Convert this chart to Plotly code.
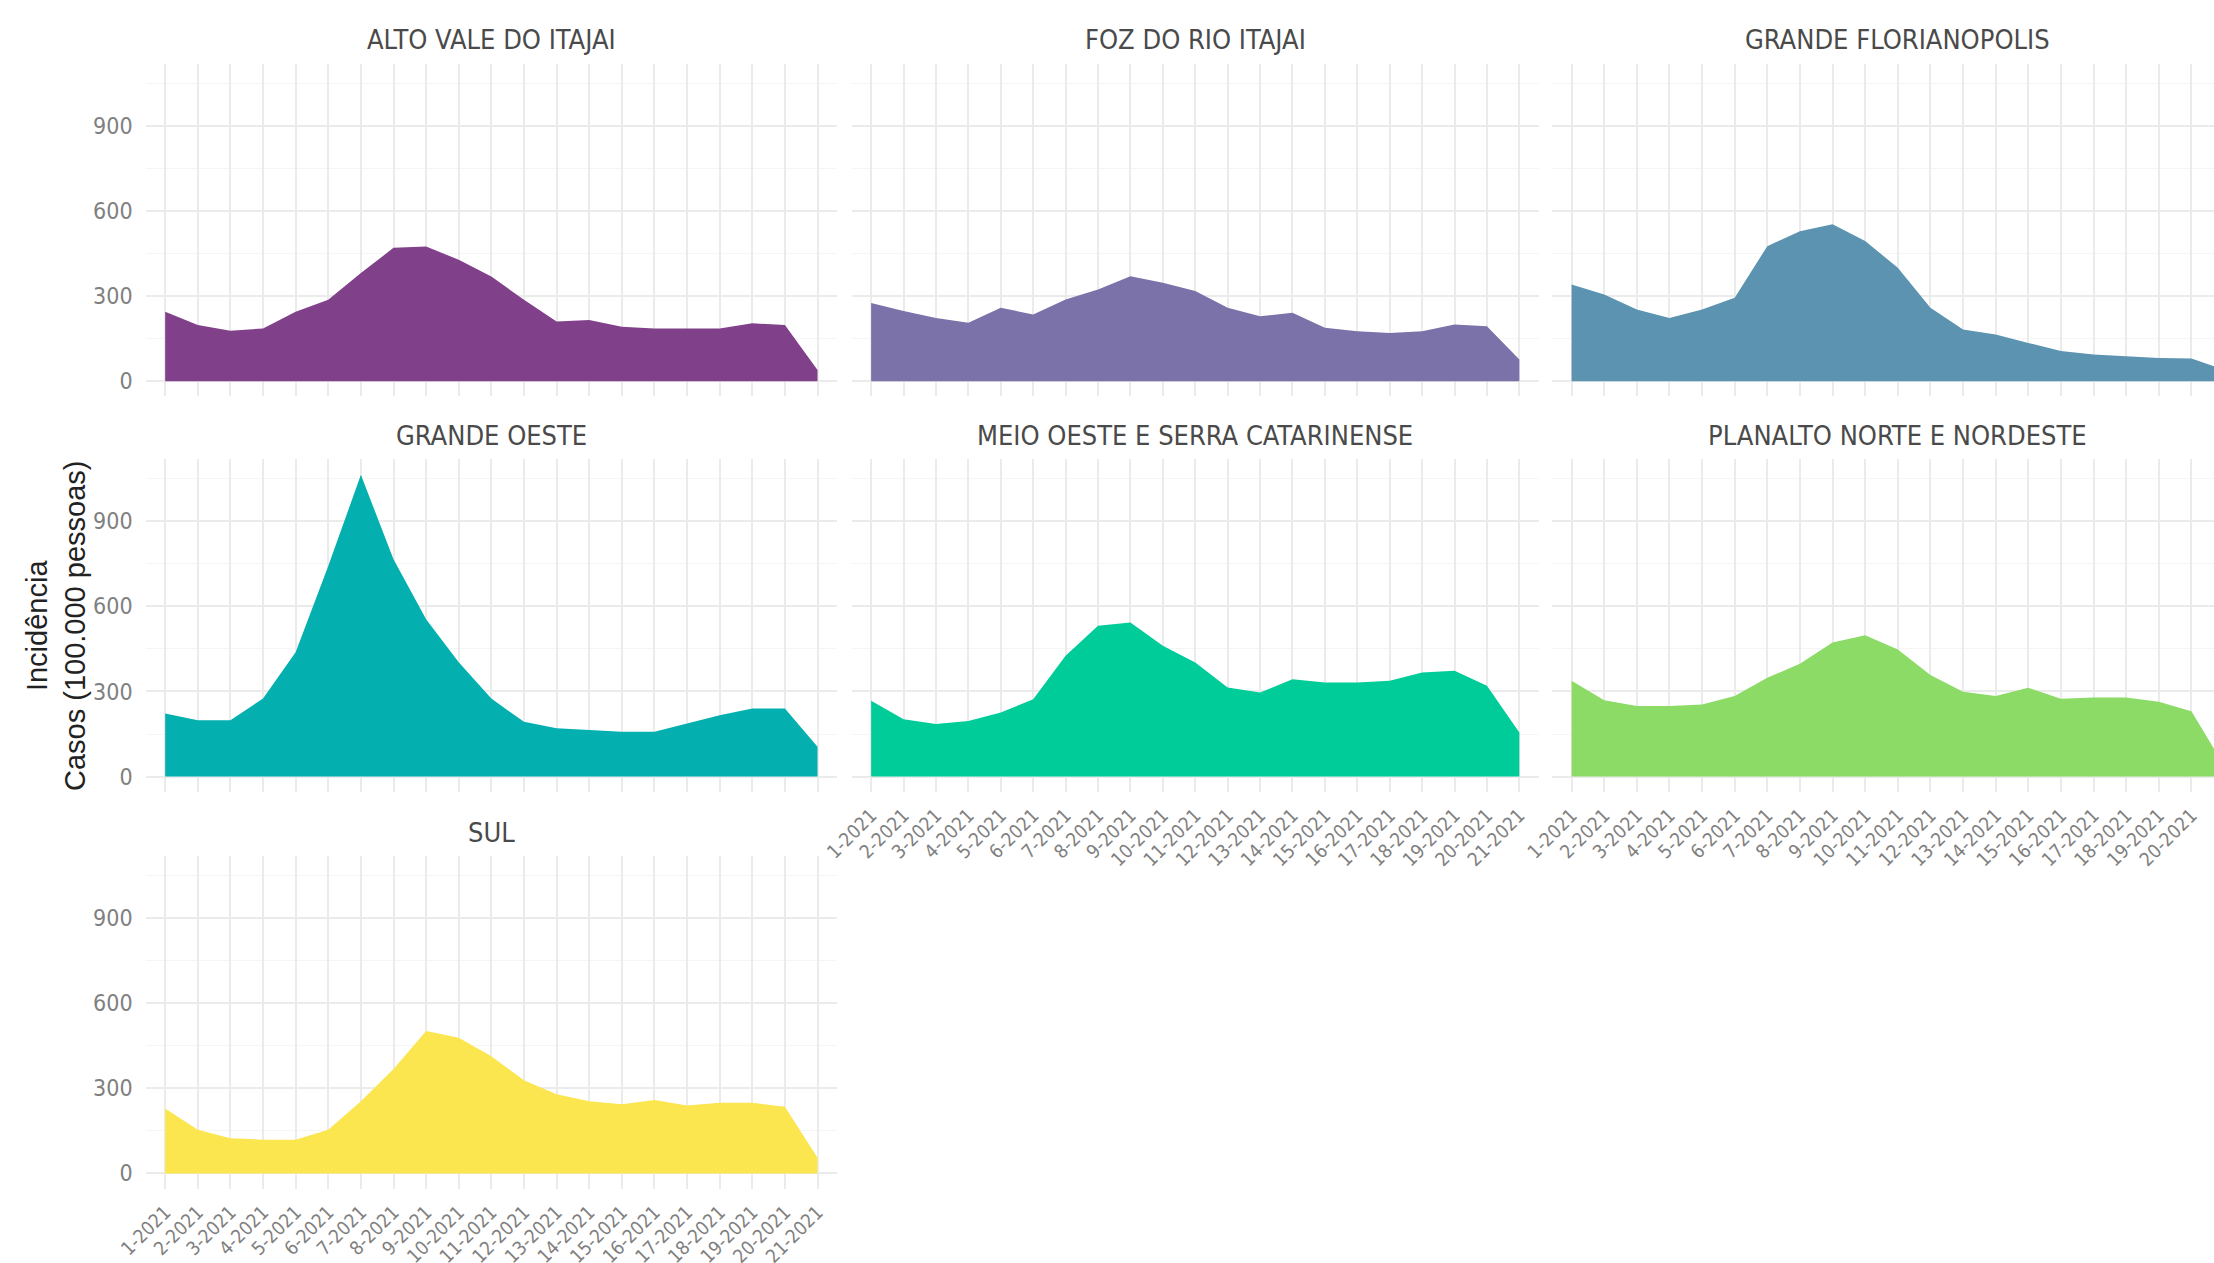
import plotly.graph_objects as go

weeks = ["1-2021", "2-2021", "3-2021", "4-2021", "5-2021", "6-2021", "7-2021",
         "8-2021", "9-2021", "10-2021", "11-2021", "12-2021", "13-2021", "14-2021",
         "15-2021", "16-2021", "17-2021", "18-2021", "19-2021", "20-2021", "21-2021"]

regions = ["ALTO VALE DO ITAJAI", "FOZ DO RIO ITAJAI", "GRANDE FLORIANOPOLIS",
           "GRANDE OESTE", "MEIO OESTE E SERRA CATARINENSE",
           "PLANALTO NORTE E NORDESTE", "SUL"]

alto_vale = [245, 198, 178, 186, 245, 287, 381, 470, 475, 428, 369, 287, 210, 216, 192, 186, 186, 186, 204, 198, 39]
foz_rio_itajai = [276, 247, 223, 206, 259, 235, 288, 323, 370, 347, 318, 259, 229, 241, 188, 176, 170, 176, 200, 194, 76]
grande_florianopolis = [341, 306, 253, 223, 253, 294, 476, 529, 553, 494, 400, 259, 182, 165, 135, 106, 94, 88, 82, 80, 40]
grande_oeste = [222, 199, 199, 275, 438, 742, 1064, 766, 555, 403, 275, 193, 170, 164, 158, 158, 187, 216, 240, 240, 105]
meio_oeste = [267, 202, 185, 196, 226, 273, 426, 532, 543, 461, 402, 314, 296, 343, 332, 332, 338, 367, 373, 320, 155]
planalto_norte = [338, 269, 249, 249, 254, 284, 348, 398, 473, 498, 448, 358, 299, 284, 313, 274, 279, 279, 264, 230, 40]
sul = [229, 154, 124, 119, 119, 154, 254, 368, 502, 478, 413, 328, 279, 254, 244, 259, 239, 249, 249, 235, 55]

series = [alto_vale, foz_rio_itajai, grande_florianopolis, grande_oeste,
          meio_oeste, planalto_norte, sul]
colors = ["#81418A", "#7A72A9", "#5C93B1", "#03AFAF", "#00CC99", "#8BDB66", "#FBE64F"]

y_ticks = [0, 300, 600, 900]

# ---- layout geometry (pixels of the 2214x1263 page) ----
W, H = 2214, 1263
col_px = [(145.6, 837.1), (851.7, 1538.8), (1552.0, 2243.6)]
row_px = [(63.5, 396.3), (458.9, 791.7), (855.7, 1188.5)]
title_y_px = [39.5, 435.0, 832.0]
y_range = [-53.3, 1120]
n = len(weeks)
full_x_range = [-0.6, n - 1 + 0.6]

narrow = "Liberation Sans Narrow, DejaVu Sans Condensed, Arial Narrow, Liberation Sans, Arial"
regular = "Liberation Sans, Arial, DejaVu Sans"

fig = go.Figure()
annotations = []

for k, (name, vals, col) in enumerate(zip(regions, series, colors)):
    r, c = divmod(k, 3)
    idx = k + 1
    xa = "xaxis" if idx == 1 else f"xaxis{idx}"
    ya = "yaxis" if idx == 1 else f"yaxis{idx}"
    xref = "x" if idx == 1 else f"x{idx}"
    yref = "y" if idx == 1 else f"y{idx}"

    fig.add_trace(go.Scatter(
        x=weeks, y=vals, xaxis=xref, yaxis=yref,
        mode="lines", line=dict(width=0, color=col),
        fill="tozeroy", fillcolor=col, showlegend=False,
        hoverinfo="x+y",
    ))

    x0, x1 = col_px[c]
    y0, y1 = row_px[r]
    x1_vis = min(x1, W)
    frac = (x1_vis - x0) / (x1 - x0)
    xr = [full_x_range[0], full_x_range[0] + (full_x_range[1] - full_x_range[0]) * frac]

    # bottom panel of each column shows x labels
    show_x = (c == 0 and r == 2) or (c > 0 and r == 1)
    show_y = (c == 0)

    fig.layout[xa] = dict(
        domain=[x0 / W, x1_vis / W], anchor=yref, type="category",
        categoryorder="array", categoryarray=weeks, range=xr,
        showgrid=True, gridcolor="#EBEBEB", gridwidth=1.5,
        zeroline=False, showline=False, ticks="", automargin=False,
        showticklabels=show_x, tickangle=-45,
        tickfont=dict(family=narrow, size=19, color="#808080"),
        ticklabelstandoff=8,
    )
    fig.layout[ya] = dict(
        domain=[1 - y1 / H, 1 - y0 / H], anchor=xref, range=y_range,
        tickvals=y_ticks, showgrid=True, gridcolor="#EBEBEB", gridwidth=1.5,
        minor=dict(dtick=150, tick0=0, showgrid=True, gridcolor="#F5F5F5", gridwidth=1),
        zeroline=False, showline=False, ticks="", automargin=False,
        showticklabels=show_y,
        tickfont=dict(family=narrow, size=23, color="#808080"),
        ticklabelstandoff=12,
    )

    annotations.append(dict(
        text=name, xref="paper", yref="paper",
        x=((x0 + x1) / 2) / W, y=1 - title_y_px[r] / H,
        xanchor="center", yanchor="middle", showarrow=False,
        font=dict(family=narrow, size=27, color="#4a4a4a"),
    ))

annotations.append(dict(
    text="Incidência<br>Casos (100.000 pessoas)", xref="paper", yref="paper",
    x=56 / W, y=1 - 626 / H, xanchor="center", yanchor="middle",
    textangle=-90, showarrow=False,
    font=dict(family=regular, size=29, color="#222222"),
))

fig.update_layout(
    width=W, height=H,
    margin=dict(l=0, r=0, t=0, b=0, autoexpand=False),
    paper_bgcolor="white", plot_bgcolor="white",
    annotations=annotations,
    showlegend=False,
)

fig.write_html(
    "out.html",
    config={"displayModeBar": False},
    post_script="document.body.style.margin='0';document.body.style.overflow='hidden';",
)
